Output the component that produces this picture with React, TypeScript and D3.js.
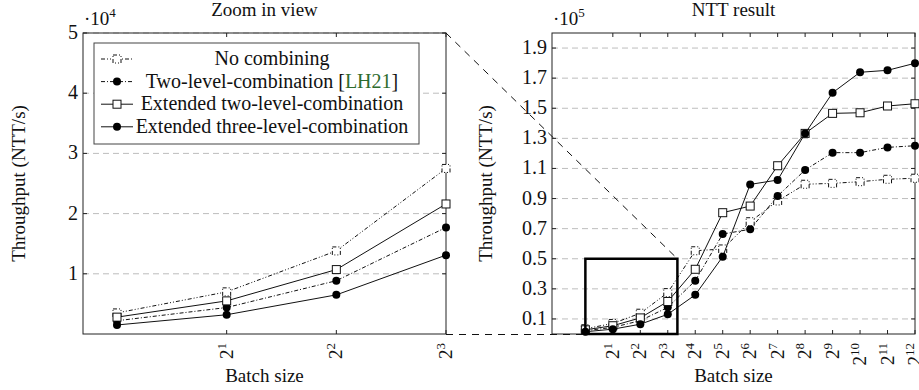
import React, { useEffect, useRef } from "react";
import * as d3 from "d3";

// batch size = 2^k
const batchExponents = [0, 1, 2, 3, 4, 5, 6, 7, 8, 9, 10, 11, 12];
const seriesNames = [
  "No combining",
  "Two-level-combination",
  "Extended two-level-combination",
  "Extended three-level-combination",
];
// throughput in NTT/s
const noCombining = [3500, 7000, 13800, 27500, 55300, 56500, 74600, 88400, 99500, 100100, 101200, 102800, 103500];
const twoLevel = [2200, 4400, 8850, 17700, 35400, 66400, 69600, 91700, 109000, 120500, 120500, 124000, 125100];
const extTwoLevel = [2800, 5500, 10700, 21600, 43000, 80600, 85000, 111800, 133300, 146600, 147000, 151500, 153000];
const extThreeLevel = [1500, 3200, 6500, 13100, 26000, 51400, 99400, 102300, 133300, 160300, 173900, 175200, 179900];

const leftYTicks = [1, 2, 3, 4, 5];
const rightYTicks = [0.1, 0.3, 0.5, 0.7, 0.9, 1.1, 1.3, 1.5, 1.7, 1.9];
const leftXTicks = [1, 2, 3];
const rightXTicks = [1, 2, 3, 4, 5, 6, 7, 8, 9, 10, 11, 12];

const FONT = "'Liberation Serif', 'Times New Roman', serif";
const FS = 19;
const SUP = 13;

const styles = [
  { dash: "4,2,1,2,1,2", marker: "square" },
  { dash: "4,2,1,2", marker: "circle" },
  { dash: null, marker: "square" },
  { dash: null, marker: "circle" },
];

const App = () => {
  const ref = useRef<SVGSVGElement>(null);

  useEffect(() => {
    draw();
  });

  let draw = () => {
    const svg = d3.select(ref.current);
    svg.selectAll("*").remove();

    const allSeries = [noCombining, twoLevel, extTwoLevel, extThreeLevel];
    const top = 33;
    const bottom = 334;

    let panel = (opts: any) => {
      const { x, y, xTicks, yTicks, yFactor, exponent, title, left, right, count, yFmt } = opts;
      const g = svg.append("g");

      // grid
      g.selectAll(".grid")
        .data(yTicks)
        .enter()
        .append("line")
        .attr("x1", left)
        .attr("x2", right)
        .attr("y1", (d: number) => y(d * yFactor))
        .attr("y2", (d: number) => y(d * yFactor))
        .attr("stroke", "#bdbdbd")
        .attr("stroke-width", 1)
        .attr("stroke-dasharray", "6,4");

      // frame
      g.append("rect")
        .attr("x", left)
        .attr("y", top)
        .attr("width", right - left)
        .attr("height", bottom - top)
        .attr("fill", "none")
        .attr("stroke", "#222")
        .attr("stroke-width", 1);

      // x ticks, inward top and bottom
      xTicks.forEach((k: number) => {
        const px = x(Math.pow(2, k));
        g.append("line").attr("x1", px).attr("x2", px).attr("y1", bottom).attr("y2", bottom - 4).attr("stroke", "#222");
        g.append("line").attr("x1", px).attr("x2", px).attr("y1", top).attr("y2", top + 4).attr("stroke", "#222");
        const t = g
          .append("text")
          .attr("transform", `translate(${px + 6},343) rotate(-90)`)
          .attr("text-anchor", "end")
          .attr("font-family", FONT)
          .attr("font-size", FS)
          .attr("fill", "#111");
        t.append("tspan").text("2");
        t.append("tspan").attr("font-size", SUP).attr("dy", -7).text(String(k));
      });

      // y ticks, inward left and right
      yTicks.forEach((v: number) => {
        const py = y(v * yFactor);
        g.append("line").attr("x1", left).attr("x2", left + 4).attr("y1", py).attr("y2", py).attr("stroke", "#222");
        g.append("line").attr("x1", right).attr("x2", right - 4).attr("y1", py).attr("y2", py).attr("stroke", "#222");
        g.append("text")
          .attr("x", left - 5)
          .attr("y", py + 6)
          .attr("text-anchor", "end")
          .attr("font-family", FONT)
          .attr("font-size", FS + 1)
          .attr("fill", "#111")
          .text(yFmt(v));
      });

      // exponent label
      const e = g
        .append("text")
        .attr("x", left + 1)
        .attr("y", 25)
        .attr("font-family", FONT)
        .attr("font-size", FS)
        .attr("fill", "#111");
      e.append("tspan").text("·10");
      e.append("tspan").attr("font-size", SUP).attr("dy", -8).text(String(exponent));

      // title
      g.append("text")
        .attr("x", (left + right) / 2)
        .attr("y", 16)
        .attr("text-anchor", "middle")
        .attr("font-family", FONT)
        .attr("font-size", FS)
        .attr("fill", "#111")
        .text(title);

      // x label
      g.append("text")
        .attr("x", (left + right) / 2)
        .attr("y", 382)
        .attr("text-anchor", "middle")
        .attr("font-family", FONT)
        .attr("font-size", FS)
        .attr("fill", "#111")
        .text("Batch size");

      // y label
      g.append("text")
        .attr("transform", `translate(${opts.yLabelX},${(top + bottom) / 2}) rotate(-90)`)
        .attr("text-anchor", "middle")
        .attr("font-family", FONT)
        .attr("font-size", FS)
        .attr("fill", "#111")
        .text("Throughput (NTT/s)");

      // series
      const exps = batchExponents.slice(0, count);
      allSeries.forEach((vals, i) => {
        const st = styles[i];
        const pts = exps.map((k, j) => [x(Math.pow(2, k)), y(vals[j])] as [number, number]);
        g.append("path")
          .attr("d", d3.line()(pts))
          .attr("fill", "none")
          .attr("stroke", "#111")
          .attr("stroke-width", 1)
          .attr("stroke-dasharray", st.dash);
        pts.forEach((p) => {
          if (st.marker === "circle") {
            g.append("circle").attr("cx", p[0]).attr("cy", p[1]).attr("r", 4).attr("fill", "#000");
          } else {
            g.append("rect")
              .attr("x", p[0] - 4)
              .attr("y", p[1] - 4)
              .attr("width", 8)
              .attr("height", 8)
              .attr("fill", "#fff")
              .attr("stroke", "#111")
              .attr("stroke-width", 1)
              .attr("stroke-dasharray", st.dash);
          }
        });
      });
      return g;
    };

    // left: zoom in view
    const xL = d3.scaleLog().base(2).domain([Math.pow(2, -0.31), 8]).range([83, 446]);
    const yL = d3.scaleLinear().domain([0, 50000]).range([bottom, top]);
    const gL = panel({
      x: xL, y: yL, xTicks: leftXTicks, yTicks: leftYTicks, yFactor: 1e4, exponent: 4,
      title: "Zoom in view", left: 83, right: 446, count: 4, yLabelX: 25,
      yFmt: (v: number) => String(v),
    });

    // legend
    const lg = gL.append("g");
    lg.append("rect")
      .attr("x", 94).attr("y", 43).attr("width", 325).attr("height", 101)
      .attr("fill", "#fff").attr("stroke", "#444").attr("stroke-width", 1);
    seriesNames.forEach((name, i) => {
      const cy = 59 + i * 22.6;
      const st = styles[i];
      lg.append("line").attr("x1", 101).attr("x2", 133).attr("y1", cy).attr("y2", cy)
        .attr("stroke", "#111").attr("stroke-dasharray", st.dash);
      if (st.marker === "circle") {
        lg.append("circle").attr("cx", 117).attr("cy", cy).attr("r", 4).attr("fill", "#000");
      } else {
        lg.append("rect").attr("x", 113).attr("y", cy - 4).attr("width", 8).attr("height", 8)
          .attr("fill", "#fff").attr("stroke", "#111").attr("stroke-dasharray", st.dash);
      }
      const t = lg.append("text")
        .attr("x", 272).attr("y", cy + 6)
        .attr("text-anchor", "middle")
        .attr("font-family", FONT).attr("font-size", 20).attr("fill", "#111");
      if (i === 1) {
        t.append("tspan").text(name + " [");
        t.append("tspan").attr("fill", "#2d6b2d").text("LH21");
        t.append("tspan").text("]");
      } else {
        t.text(name);
      }
    });

    // right: NTT result
    const xR = d3.scaleLog().base(2).domain([Math.pow(2, -1.215), 4096]).range([552, 915]);
    const yR = d3.scaleLinear().domain([0, 200000]).range([bottom, top]);
    const gR = panel({
      x: xR, y: yR, xTicks: rightXTicks, yTicks: rightYTicks, yFactor: 1e5, exponent: 5,
      title: "NTT result", left: 552, right: 915, count: 13, yLabelX: 492,
      yFmt: (v: number) => v.toFixed(1),
    });

    // zoom rectangle
    const rx0 = xR(1);
    const rx1 = xR(Math.pow(2, 3.35));
    const ry0 = yR(50000);
    const ry1 = yR(0);
    gR.append("rect")
      .attr("x", rx0).attr("y", ry0).attr("width", rx1 - rx0).attr("height", ry1 - ry0)
      .attr("fill", "none").attr("stroke", "#000").attr("stroke-width", 2.5);

    // connector lines
    svg.append("line")
      .attr("x1", 446).attr("y1", top).attr("x2", rx1).attr("y2", ry0)
      .attr("stroke", "#111").attr("stroke-width", 1).attr("stroke-dasharray", "7,6");
    svg.append("line")
      .attr("x1", 446).attr("y1", bottom + 0.5).attr("x2", rx0).attr("y2", bottom + 0.5)
      .attr("stroke", "#111").attr("stroke-width", 1).attr("stroke-dasharray", "7,6");
  };

  return (
    <svg
      ref={ref}
      width={919}
      height={390}
      style={{ position: "absolute", left: 0, top: 0, background: "#fff" }}
    />
  );
};

export default App;
